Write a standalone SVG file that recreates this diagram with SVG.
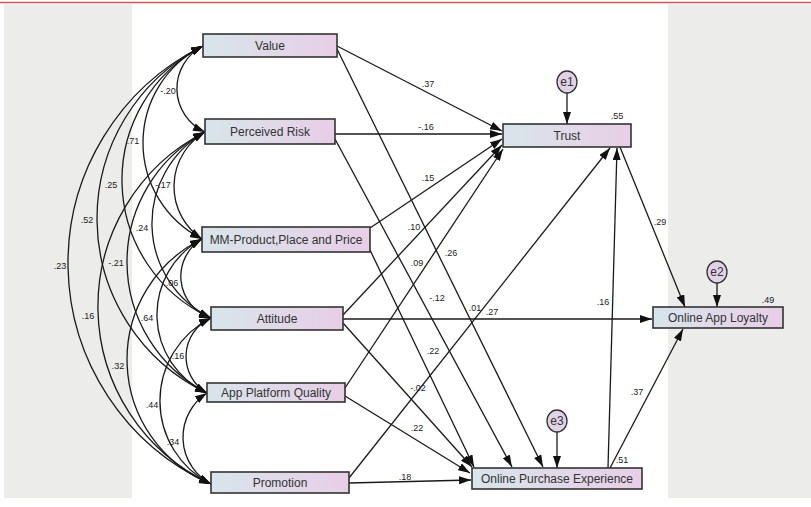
<svg xmlns="http://www.w3.org/2000/svg" width="811" height="507" viewBox="0 0 811 507">
<defs>
<linearGradient id="bf" x1="0" y1="0" x2="1" y2="0">
<stop offset="0" stop-color="#D8E5EA"/>
<stop offset="1" stop-color="#E8CEE6"/>
</linearGradient>
<marker id="ah" viewBox="0 0 12 8" refX="12" refY="4" markerWidth="12" markerHeight="8" markerUnits="userSpaceOnUse" orient="auto-start-reverse">
<path d="M0,0 L12,4 L0,8 z" fill="#111"/>
</marker>
<style>
.box{fill:url(#bf);stroke:#333;stroke-width:1.6}
.err{fill:#E2D2E8;stroke:#333;stroke-width:1.3}
.bt{font-family:"Liberation Sans",Arial,sans-serif;font-size:12px;fill:#333;text-anchor:middle}
.et{font-family:"Liberation Sans",Arial,sans-serif;font-size:12px;fill:#333;text-anchor:middle}
.lb{font-family:"Liberation Sans",Arial,sans-serif;font-size:9px;fill:#222;text-anchor:middle}
.cn path{fill:none;stroke:#1a1a1a;stroke-width:1.3;marker-end:url(#ah)}
.cv path{fill:none;stroke:#1a1a1a;stroke-width:1.3;marker-start:url(#ah);marker-end:url(#ah)}
</style>
</defs>
<rect x="0" y="0" width="811" height="507" fill="#FFFFFF"/>
<rect x="4" y="4" width="128" height="494" fill="#ECECEA"/>
<rect x="668" y="4" width="143" height="494" fill="#ECECEA"/>
<line x1="0" y1="2.5" x2="811" y2="2.5" stroke="#D9534F" stroke-width="1.5"/>

<g id="connectors">
<g class="cv">
<path d="M203,46 A47.7,47.7 0 0 0 205,132"/>
<path d="M203,46 A108,108 0 0 0 202,239"/>
<path d="M203,46 A151.4,151.4 0 0 0 211,318"/>
<path d="M203,46 A193.4,193.4 0 0 0 207,393"/>
<path d="M203,46 A242.1,242.1 0 0 0 211,484"/>
<path d="M205,132 A63.3,63.3 0 0 0 202,239"/>
<path d="M205,132 A105.3,105.3 0 0 0 211,318"/>
<path d="M205,132 A147.3,147.3 0 0 0 207,393"/>
<path d="M205,132 A195.8,195.8 0 0 0 211,484"/>
<path d="M202,239 A43.7,43.7 0 0 0 211,318"/>
<path d="M202,239 A86.2,86.2 0 0 0 207,393"/>
<path d="M202,239 A134.3,134.3 0 0 0 211,484"/>
<path d="M211,318 A42.2,42.2 0 0 0 207,393"/>
<path d="M211,318 A93,93 0 0 0 211,484"/>
<path d="M207,393 A52.9,52.9 0 0 0 211,484"/>
</g>
<g class="cn">
<path d="M337,46 L502,131"/>
<path d="M335,134 L502,134"/>
<path d="M370,228 L502,139"/>
<path d="M343,315 L502,145"/>
<path d="M345,388 L503,149"/>
<path d="M349,478 L610,148"/>
<path d="M337,49 L543,467"/>
<path d="M335,139 L512,467"/>
<path d="M370,250 L474,467"/>
<path d="M343,323 L472,467"/>
<path d="M345,396 L470,473"/>
<path d="M349,483 L471,480"/>
<path d="M608,468 L617,148"/>
<path d="M610,468 L683,329"/>
<path d="M620,147 L685,307"/>
<path d="M343,319 L652,319"/>
<path d="M567,93 L567,124"/>
<path d="M717,283 L717,307"/>
<path d="M557,432 L557,468"/>
</g>
<g id="cov-labels">
<text class="lb" x="168" y="94">-.20</text>
<text class="lb" x="133" y="144">.71</text>
<text class="lb" x="111" y="188">.25</text>
<text class="lb" x="163" y="188">-.17</text>
<text class="lb" x="87" y="223">.52</text>
<text class="lb" x="142" y="231">.24</text>
<text class="lb" x="60" y="269">.23</text>
<text class="lb" x="116" y="266">-.21</text>
<text class="lb" x="172" y="286">.06</text>
<text class="lb" x="88" y="319">.16</text>
<text class="lb" x="147" y="321">.64</text>
<text class="lb" x="178" y="359">.16</text>
<text class="lb" x="118" y="369">.32</text>
<text class="lb" x="152" y="408">.44</text>
<text class="lb" x="173" y="445">.34</text>
</g>
<g id="path-labels">
<text class="lb" x="428" y="87">.37</text>
<text class="lb" x="426" y="130">-.16</text>
<text class="lb" x="428" y="181">.15</text>
<text class="lb" x="414" y="230">.10</text>
<text class="lb" x="417" y="266">.09</text>
<text class="lb" x="451" y="256">.26</text>
<text class="lb" x="437" y="301">-.12</text>
<text class="lb" x="475" y="311">.01</text>
<text class="lb" x="492" y="315">.27</text>
<text class="lb" x="433" y="354">.22</text>
<text class="lb" x="418" y="391">-.02</text>
<text class="lb" x="417" y="431">.22</text>
<text class="lb" x="405" y="480">.18</text>
<text class="lb" x="603" y="305">.16</text>
<text class="lb" x="637" y="395">.37</text>
<text class="lb" x="660" y="225">.29</text>
<text class="lb" x="617" y="119">.55</text>
<text class="lb" x="768" y="303">.49</text>
<text class="lb" x="622" y="463">.51</text>
</g>
</g>

<g id="value"><rect class="box" x="203" y="34" width="134" height="23"/><text class="bt" x="270" y="50">Value</text></g>
<g id="perceived-risk"><rect class="box" x="205" y="119" width="130" height="25"/><text class="bt" x="270" y="136">Perceived Risk</text></g>
<g id="mm-product"><rect class="box" x="202" y="227" width="168" height="25"/><text class="bt" x="286" y="244">MM-Product,Place and Price</text></g>
<g id="attitude"><rect class="box" x="211" y="307" width="132" height="23"/><text class="bt" x="277" y="323">Attitude</text></g>
<g id="app-platform-quality"><rect class="box" x="207" y="383" width="138" height="19"/><text class="bt" x="276" y="397">App Platform Quality</text></g>
<g id="promotion"><rect class="box" x="211" y="472" width="138" height="21"/><text class="bt" x="280" y="487">Promotion</text></g>
<g id="trust"><rect class="box" x="503" y="124" width="128" height="23"/><text class="bt" x="567" y="140">Trust</text></g>
<g id="online-app-loyalty"><rect class="box" x="653" y="307" width="130" height="21"/><text class="bt" x="718" y="322">Online App Loyalty</text></g>
<g id="online-purchase-experience"><rect class="box" x="472" y="468" width="170" height="21"/><text class="bt" x="557" y="483">Online Purchase Experience</text></g>
<g id="e1"><ellipse class="err" cx="567" cy="82" rx="10" ry="11"/><text class="et" x="567" y="86">e1</text></g>
<g id="e2"><ellipse class="err" cx="717" cy="272" rx="10" ry="11"/><text class="et" x="717" y="276">e2</text></g>
<g id="e3"><ellipse class="err" cx="557" cy="421" rx="10" ry="11"/><text class="et" x="557" y="425">e3</text></g>
</svg>
